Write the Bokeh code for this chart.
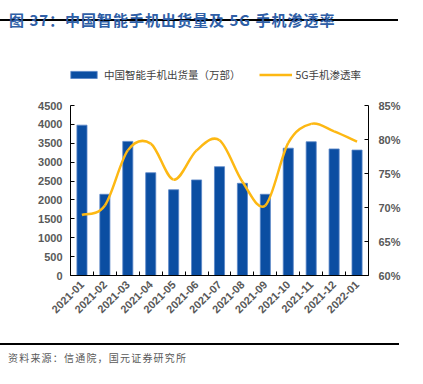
import math
from bokeh.plotting import figure
from bokeh.models import (Range1d, LinearAxis, FixedTicker, PrintfTickFormatter,
                          Legend, LegendItem, ColumnDataSource, Div)
from bokeh.layouts import column
from bokeh.embed import file_html
from bokeh.resources import INLINE

months = ["2021-01", "2021-02", "2021-03", "2021-04", "2021-05", "2021-06", "2021-07",
          "2021-08", "2021-09", "2021-10", "2021-11", "2021-12", "2022-01"]
shipments = [3980, 2150, 3550, 2720, 2270, 2530, 2880, 2440, 2150, 3370, 3540, 3350, 3320]
rate_5g = [68.9, 70.3, 78.4, 79.4, 74.1, 78.4, 79.9, 73.8, 70.3, 79.5, 82.3, 81.2, 79.7]
left_ticks = [0, 500, 1000, 1500, 2000, 2500, 3000, 3500, 4000, 4500]
right_ticks = [60, 65, 70, 75, 80, 85]

title_text = "图 37：中国智能手机出货量及 5G 手机渗透率"
source_text = "资料来源：信通院，国元证券研究所"
bar_name = "中国智能手机出货量（万部）"
line_name = "5G手机渗透率"

BLUE = "#0B4EA2"
YELLOW = "#FDB813"
GREY = "#595959"
CJK = "Noto Sans CJK SC"
LAT = "Liberation Sans"

n = len(months)
xs = list(range(n))

# frame: data part 170 px tall, plus 51 px of headroom for the legend
FRAME_H = 221
DATA_H = 170
L_MAX = 4500
R_MIN, R_MAX = 60, 85
l_top = L_MAX * FRAME_H / DATA_H
r_top = R_MIN + (R_MAX - R_MIN) * FRAME_H / DATA_H

p = figure(width=407, height=309, output_backend="svg", toolbar_location=None,
           x_range=Range1d(-0.5, n - 0.5), y_range=Range1d(0, l_top),
           min_border_left=70, min_border_right=39, min_border_top=20, min_border_bottom=68)
p.extra_y_ranges = {"pct": Range1d(R_MIN, r_top)}
p.outline_line_color = None
p.xgrid.visible = False
p.ygrid.visible = False
p.background_fill_color = "white"
p.border_fill_color = "white"

def style_axis(ax, standoff):
    ax.major_tick_in = 4
    ax.major_tick_out = 0
    ax.minor_tick_line_color = None
    ax.axis_line_color = "black"
    ax.major_tick_line_color = "black"
    ax.major_label_text_font = LAT
    ax.major_label_text_font_style = "bold"
    ax.major_label_text_font_size = "11px"
    ax.major_label_text_color = GREY
    ax.major_label_standoff = standoff

ya = p.yaxis[0]
ya.ticker = FixedTicker(ticks=left_ticks)
ya.bounds = (0, L_MAX)
style_axis(ya, 8)

ra = LinearAxis(y_range_name="pct", ticker=FixedTicker(ticks=right_ticks),
                formatter=PrintfTickFormatter(format="%d%%"), bounds=(R_MIN, R_MAX))
style_axis(ra, 10)
p.add_layout(ra, "right")

xa = p.xaxis[0]
xa.ticker = FixedTicker(ticks=xs, minor_ticks=[i - 0.5 for i in range(n + 1)])
xa.major_label_overrides = {i: m for i, m in enumerate(months)}
style_axis(xa, 7)
xa.major_tick_in = 0
xa.minor_tick_in = 4
xa.minor_tick_out = 0
xa.minor_tick_line_color = "black"
xa.major_label_orientation = math.pi / 4

src = ColumnDataSource(dict(x=xs, v=shipments))
bars = p.vbar(x="x", top="v", width=0.44, source=src, fill_color=BLUE,
              line_color="#5A86C8", line_width=0.8)

# smooth line: Catmull-Rom curve through the data points, as cubic Bezier segments
x0s, y0s, x1s, y1s, cx0, cy0, cx1, cy1 = [], [], [], [], [], [], [], []
for i in range(n - 1):
    xp, yp = xs[max(i - 1, 0)], rate_5g[max(i - 1, 0)]
    xa_, ya_ = xs[i], rate_5g[i]
    xb, yb = xs[i + 1], rate_5g[i + 1]
    xn, yn = xs[min(i + 2, n - 1)], rate_5g[min(i + 2, n - 1)]
    x0s.append(xa_); y0s.append(ya_); x1s.append(xb); y1s.append(yb)
    cx0.append(xa_ + (xb - xp) / 6); cy0.append(ya_ + (yb - yp) / 6)
    cx1.append(xb - (xn - xa_) / 6); cy1.append(yb - (yn - ya_) / 6)
bz = p.bezier(x0=x0s, y0=y0s, x1=x1s, y1=y1s, cx0=cx0, cy0=cy0, cx1=cx1, cy1=cy1,
              y_range_name="pct", line_color=YELLOW, line_width=2.5)

legend = Legend(items=[LegendItem(label=bar_name, renderers=[bars]),
                       LegendItem(label=line_name, renderers=[bz])],
                orientation="horizontal", location=(-3, 193), padding=0, margin=0,
                spacing=18, glyph_width=33, glyph_height=9, label_standoff=4,
                label_text_font=CJK, label_text_font_size="10.5px",
                label_text_color="#404040", background_fill_alpha=0,
                border_line_color=None, label_height=14)
p.add_layout(legend, "center")

title_div = Div(
    text=(f'<div style="height:21px;padding:11px 0 0 9px;border-bottom:2px solid #000;'
          f'width:398px;font-family:\'{CJK}\';font-weight:bold;font-size:15px;'
          f'letter-spacing:1px;line-height:18px;color:#2F5FA7;white-space:nowrap">'
          f'{title_text}</div>'),
    width=407, height=34, margin=0)
source_div = Div(
    text=(f'<div style="height:17px;padding:6px 0 0 8px;border-top:2px solid #000;'
          f'width:399px;font-family:\'{CJK}\';font-size:10px;letter-spacing:1.2px;'
          f'line-height:14px;color:{GREY};white-space:nowrap">{source_text}</div>'),
    width=407, height=25, margin=0)

layout = column(title_div, p, source_div, spacing=0)
open("out.html", "w").write(file_html(layout, INLINE))
